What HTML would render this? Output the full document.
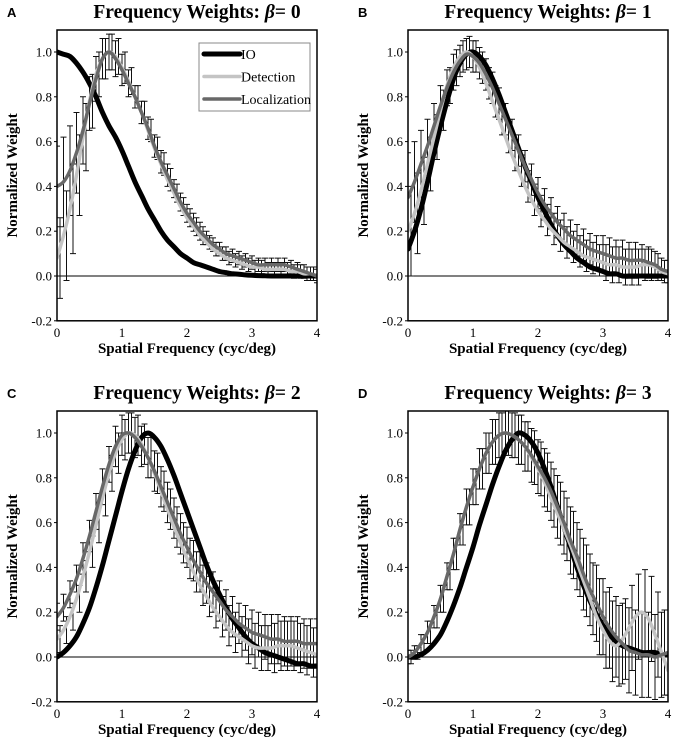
<!DOCTYPE html>
<html><head><meta charset="utf-8">
<style>
html,body{margin:0;padding:0;background:#fff;}
svg{display:block;}
</style></head>
<body>
<svg id="fig" width="681" height="750" viewBox="0 0 681 750" xmlns="http://www.w3.org/2000/svg"></svg>
<script>
const xs = [];
for (let i = 0; i <= 40; i++) xs.push(i / 10);
const xTicks = [0, 1, 2, 3, 4];
const yTicks = [-0.2, 0.0, 0.2, 0.4, 0.6, 0.8, 1.0];
const yTickLabels = ["-0.2", "0.0", "0.2", "0.4", "0.6", "0.8", "1.0"];
const panelLetters = ["A", "B", "C", "D"];
const panelBetas = ["0", "1", "2", "3"];

const ioA = [1.0,.99,.98,.95,.91,.86,.80,.73,.67,.62,.56,.49,.42,.36,.30,.25,.20,.16,.13,.10,.08,.06,.05,.04,.03,.02,.015,.01,.008,.005,.003,.002,.001,0,0,0,0,0,0,0,0];
const detA = [.08,.18,.30,.45,.62,.78,.90,.97,1.0,.98,.93,.87,.80,.73,.65,.57,.50,.43,.37,.31,.26,.22,.18,.15,.12,.10,.08,.07,.06,.05,.04,.04,.03,.03,.03,.03,.02,.02,.01,.01,0];
const locA = [.40,.42,.47,.55,.65,.77,.88,.97,1.0,.97,.92,.86,.80,.73,.66,.58,.51,.45,.39,.33,.28,.24,.20,.17,.14,.12,.10,.09,.08,.07,.06,.05,.05,.05,.05,.05,.04,.03,.02,.01,0];
const errA = [.18,.2,.2,.18,.15,.12,.1,.09,.08,.08,.07,.06,.05,.05,.05,.05,.05,.05,.04,.04,.04,.04,.04,.03,.03,.03,.03,.03,.03,.03,.03,.03,.03,.03,.03,.03,.03,.03,.03,.03,.03];

const ioB = [.12,.2,.3,.42,.55,.67,.78,.88,.95,.99,1.0,.98,.94,.88,.81,.73,.65,.57,.49,.42,.35,.29,.23,.18,.14,.11,.08,.06,.04,.03,.02,.01,.01,0,0,0,0,0,0,0,0];
const detB = [.2,.28,.38,.5,.62,.74,.85,.93,.98,1.0,.98,.93,.86,.78,.70,.62,.54,.47,.40,.34,.29,.25,.21,.18,.15,.13,.11,.09,.08,.07,.06,.05,.05,.04,.04,.04,.05,.05,.04,.02,.01];
const locB = [.35,.42,.5,.58,.67,.76,.84,.91,.96,.99,.98,.95,.9,.84,.77,.70,.63,.56,.49,.43,.37,.32,.28,.24,.21,.18,.16,.14,.12,.11,.10,.09,.08,.08,.07,.07,.07,.06,.05,.03,.02];
const errB = [.2,.18,.15,.12,.1,.09,.08,.08,.07,.07,.07,.07,.07,.07,.07,.07,.07,.07,.07,.07,.07,.07,.07,.07,.07,.07,.07,.07,.07,.07,.08,.08,.08,.08,.08,.08,.07,.07,.06,.05,.05];

const ioC = [0,.02,.05,.09,.15,.22,.31,.41,.52,.63,.74,.84,.92,.98,1.0,.98,.94,.88,.81,.73,.65,.57,.49,.41,.34,.28,.22,.17,.13,.09,.06,.04,.02,.01,0,-.01,-.02,-.03,-.03,-.04,-.04];
const detC = [.08,.12,.18,.26,.36,.47,.59,.71,.82,.91,.97,1.0,.99,.95,.89,.82,.74,.66,.58,.51,.44,.38,.32,.27,.22,.18,.14,.11,.09,.07,.05,.04,.04,.04,.05,.05,.05,.04,.03,.02,.01];
const locC = [.18,.22,.28,.35,.44,.54,.65,.76,.86,.94,.99,1.0,.98,.94,.89,.83,.76,.69,.62,.55,.49,.43,.38,.33,.29,.25,.21,.18,.15,.13,.11,.10,.09,.08,.08,.07,.07,.07,.06,.06,.06];
const errC = [.06,.06,.06,.06,.07,.07,.08,.08,.08,.09,.09,.09,.09,.09,.09,.09,.09,.09,.09,.09,.09,.09,.09,.09,.09,.09,.09,.09,.09,.1,.1,.1,.1,.11,.11,.11,.11,.11,.11,.11,.11];

const ioD = [0,0,.01,.03,.06,.1,.16,.23,.31,.40,.49,.59,.68,.77,.85,.92,.97,1.0,.99,.96,.91,.84,.76,.67,.58,.49,.40,.32,.25,.19,.14,.10,.07,.05,.04,.03,.02,.02,.02,.01,.01];
const detD = [0,.02,.06,.11,.18,.26,.36,.46,.57,.67,.76,.84,.91,.96,.99,1.0,.99,.97,.94,.89,.84,.78,.71,.64,.57,.50,.42,.34,.26,.18,.12,.07,.05,.08,.13,.18,.2,.17,.1,.02,-.06];
const locD = [0,.02,.06,.11,.18,.26,.36,.46,.57,.67,.76,.84,.91,.96,.99,1.0,.99,.97,.94,.90,.85,.80,.74,.67,.60,.52,.45,.37,.30,.24,.18,.13,.09,.06,.03,.02,.01,.01,0,.01,.02];
const errD = [.03,.03,.04,.05,.05,.06,.06,.07,.07,.08,.08,.09,.09,.1,.1,.1,.1,.11,.11,.12,.12,.13,.13,.14,.14,.15,.15,.16,.16,.17,.17,.18,.18,.18,.19,.19,.19,.19,.19,.19,.19];

const panels = [
  {io: ioA, det: detA, loc: locA, err: errA, x0: 57, x1: 317, yTop: 30, y1v: 52, y0v: 276, legend: true},
  {io: ioB, det: detB, loc: locB, err: errB, x0: 408, x1: 668, yTop: 30, y1v: 52, y0v: 276, legend: false},
  {io: ioC, det: detC, loc: locC, err: errC, x0: 57, x1: 317, yTop: 411, y1v: 433, y0v: 657, legend: false},
  {io: ioD, det: detD, loc: locD, err: errD, x0: 408, x1: 668, yTop: 411, y1v: 433, y0v: 657, legend: false}
];

const NS = "http://www.w3.org/2000/svg";
const svg = document.getElementById("fig");
function mk(tag, attrs, parent, text) {
  const e = document.createElementNS(NS, tag);
  for (const k in attrs) e.setAttribute(k, attrs[k]);
  if (text !== undefined) e.textContent = text;
  parent.appendChild(e);
  return e;
}
const serif = "'Liberation Serif', serif";

function smoothPath(pts) {
  let d = "M" + pts[0][0].toFixed(1) + "," + pts[0][1].toFixed(1);
  for (let i = 0; i < pts.length - 1; i++) {
    const p0 = pts[i - 1] || pts[i], p1 = pts[i], p2 = pts[i + 1], p3 = pts[i + 2] || p2;
    const c1x = p1[0] + (p2[0] - p0[0]) / 6, c1y = p1[1] + (p2[1] - p0[1]) / 6;
    const c2x = p2[0] - (p3[0] - p1[0]) / 6, c2y = p2[1] - (p3[1] - p1[1]) / 6;
    d += `C${c1x.toFixed(1)},${c1y.toFixed(1)} ${c2x.toFixed(1)},${c2y.toFixed(1)} ${p2[0].toFixed(1)},${p2[1].toFixed(1)}`;
  }
  return d;
}

panels.forEach((p, idx) => {
  const g = mk("g", {}, svg);
  
  
  const X = v => p.x0 + (v / 4) * (p.x1 - p.x0);
  const Y = v => p.y0v - v * (p.y0v - p.y1v);
  const yBot = Y(-0.2);
  const midX = (p.x0 + p.x1) / 2;

  const letter = mk("text", {x: p.x0 - 50, y: p.yTop - 13, "font-family": "'Liberation Sans', sans-serif", "font-weight": "bold", "font-size": 13}, g, panelLetters[idx]);
  
  

  const title = mk("text", {x: midX + 10, y: p.yTop - 12, "text-anchor": "middle", "font-family": serif, "font-weight": "bold", "font-size": 19.5}, g);
  
  
  mk("tspan", {}, title, "Frequency Weights: ");
  mk("tspan", {"font-style": "italic"}, title, "β");
  mk("tspan", {}, title, "= " + panelBetas[idx]);

  const zl = mk("line", {x1: p.x0, x2: p.x1, y1: Y(0), y2: Y(0), stroke: "#000", "stroke-width": 1}, g);
  
  

  yTicks.forEach((t, i) => {
    const tl = mk("text", {x: p.x0 - 5, y: Y(t) + 4.5, "text-anchor": "end", "font-family": serif, "font-size": 13}, g, yTickLabels[i]);
    
    
    mk("line", {x1: p.x0 - 3, x2: p.x0, y1: Y(t), y2: Y(t), stroke: "#000"}, g);
  });
  xTicks.forEach(t => {
    const tl = mk("text", {x: X(t), y: yBot + 16, "text-anchor": "middle", "font-family": serif, "font-size": 13}, g, String(t));
    
    
  });
  const xl = mk("text", {x: midX, y: yBot + 32, "text-anchor": "middle", "font-family": serif, "font-weight": "bold", "font-size": 15}, g, "Spatial Frequency (cyc/deg)");
  
  
  const ymid = (p.yTop + yBot) / 2;
  const yl = mk("text", {x: 0, y: 0, transform: `translate(${p.x0 - 40},${ymid}) rotate(-90)`, "text-anchor": "middle", "font-family": serif, "font-weight": "bold", "font-size": 15}, g, "Normalized Weight");
  
  

  const cid = "clip" + idx;
  const cp = mk("clipPath", {id: cid}, g);
  mk("rect", {x: p.x0, y: p.yTop, width: p.x1 - p.x0, height: yBot - p.yTop}, cp);
  const plot = mk("g", {"clip-path": `url(#${cid})`}, g);

  [p.loc, p.det].forEach((series, si) => {
    series.forEach((v, i) => {
      const e = p.err[i];
      const cx = X(xs[i]) + (si ? 3 : 0);
      const eb = mk("path", {d: `M${cx},${Y(v + e)}V${Y(v - e)}M${cx - 3},${Y(v + e)}h6M${cx - 3},${Y(v - e)}h6`, stroke: "#111", "stroke-width": 1, fill: "none"}, plot);
      
      
    });
  });

  const line = (arr, color, w, name) => {
    const d = smoothPath(arr.map((v, i) => [X(xs[i]), Y(v)]));
    const l = mk("path", {d, stroke: color, "stroke-width": w, fill: "none", "stroke-linejoin": "round", "stroke-linecap": "round"}, plot);
    
    
  };
  line(p.io, "#000", 5, "io-line");
  line(p.det, "#c4c4c4", 3.5, "detection-line");
  line(p.loc, "#686868", 3.5, "localization-line");

  const frame = mk("rect", {x: p.x0, y: p.yTop, width: p.x1 - p.x0, height: yBot - p.yTop, fill: "none", stroke: "#000", "stroke-width": 1.5}, g);
  
  

  if (p.legend) {
    const lg = mk("g", {}, g);
    
    
    mk("rect", {x: 199, y: 43, width: 111, height: 68, fill: "#fff", stroke: "#888", "stroke-width": 1}, lg);
    const ents = [["IO", "#000", 5], ["Detection", "#c4c4c4", 3.5], ["Localization", "#686868", 3.5]];
    ents.forEach((en, i) => {
      const yy = 54 + i * 22.5;
      const le = mk("g", {}, lg);
      
      
      mk("line", {x1: 204, x2: 240, y1: yy, y2: yy, stroke: en[1], "stroke-width": en[2], "stroke-linecap": "round"}, le);
      mk("text", {x: 241, y: yy + 5, "font-family": serif, "font-size": 14}, le, en[0]);
    });
  }
});
</script>
</body></html>
